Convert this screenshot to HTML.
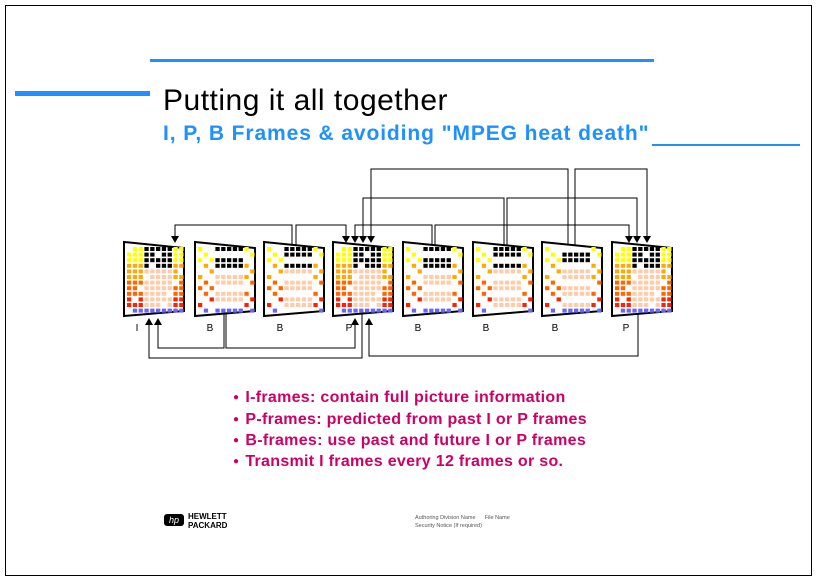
<!DOCTYPE html>
<html><head><meta charset="utf-8"><style>
body{margin:0;width:816px;height:580px;background:#fff;position:relative;overflow:hidden;font-family:"Liberation Sans",sans-serif}
.a{position:absolute}
.b{position:absolute;left:233px;color:#cc0066;font-weight:bold;font-size:16px;white-space:nowrap;letter-spacing:0.3px}
.b span{font-size:10px;margin-right:6px;position:relative;top:-2px}
</style></head><body>
<div class="a" style="left:5px;top:5px;width:805px;height:569px;border:1px solid #000"></div>
<div class="a" style="left:150px;top:59px;width:504px;height:3px;background:#1e90ff"></div>
<div class="a" style="left:15px;top:91px;width:135px;height:5px;background:#1e90ff"></div>
<div class="a" style="left:652px;top:144px;width:148px;height:2px;background:#1e90ff"></div>
<div class="a" style="left:163px;top:84px;font-size:30px;color:#000;letter-spacing:0.5px">Putting it all together</div>
<div class="a" style="left:163px;top:122px;font-size:21px;font-weight:bold;color:#1e90ff;letter-spacing:0.9px">I, P, B Frames &amp; avoiding "MPEG heat death"</div>
<svg class="a" style="left:0;top:0" width="816" height="580">
<g stroke="#000" stroke-width="1" fill="none">
<polyline points="175,240 175,225 292,225 292,247"/>
<polyline points="296,247 296,225 346,225 346,240"/>
<polyline points="355,240 355,225 432,225 432,247"/>
<polyline points="435,247 435,225 629,225 629,240"/>
<polyline points="363,240 363,198 504,198 504,247"/>
<polyline points="507,247 507,198 637,198 637,240"/>
<polyline points="371,240 371,169 568,169 568,247"/>
<polyline points="575,247 575,169 647,169 647,240"/>
<polyline points="158,322 158,348 224,348 224,312"/>
<polyline points="226,312 226,348 355,348 355,322"/>
<polyline points="149,322 149,358 362,358 362,312"/>
<polyline points="369,322 369,356 638,356 638,312"/>
</g>
<g fill="#000">
<path d="M171,236h8l-4,7z"/><path d="M342,236h8l-4,7z"/><path d="M351,236h8l-4,7z"/><path d="M625,236h8l-4,7z"/>
<path d="M359,236h8l-4,7z"/><path d="M633,236h8l-4,7z"/><path d="M367,236h8l-4,7z"/><path d="M643,236h8l-4,7z"/>
<path d="M154,325h8l-4,-7z"/><path d="M351,325h8l-4,-7z"/><path d="M145,325h8l-4,-7z"/><path d="M365,325h8l-4,-7z"/>
</g>
<g id="fr"></g>
<g font-size="10" fill="#000" text-anchor="middle">
<text x="137" y="331">I</text><text x="210" y="331">B</text><text x="280" y="331">B</text><text x="349" y="331">P</text>
<text x="418" y="331">B</text><text x="486" y="331">B</text><text x="555" y="331">B</text><text x="626" y="331">P</text>
</g>
</svg>
<div class="b" style="top:389px"><span>●</span>I-frames: contain full picture information</div>
<div class="b" style="top:411px"><span>●</span>P-frames: predicted from past I or P frames</div>
<div class="b" style="top:432px"><span>●</span>B-frames: use past and future I or P frames</div>
<div class="b" style="top:453px"><span>●</span>Transmit I frames every 12 frames or so.</div>
<div class="a" style="left:164px;top:514px;width:20px;height:12px;background:#000;border-radius:3px;color:#fff;font-size:9px;font-style:italic;text-align:center;line-height:12px">hp</div>
<div class="a" style="left:188px;top:512px;font-size:8px;line-height:9px;font-weight:bold">HEWLETT<br>PACKARD</div>
<div class="a" style="left:415px;top:514px;font-size:5.5px;line-height:8px;color:#555">Authoring Division Name &nbsp;&nbsp;&nbsp;&nbsp; File Name<br>Security Notice (If required)</div>
<script>
var xs=[124,195,264,333,403,473,542,612],g=document.getElementById('fr'),h='';
xs.forEach(function(x,i){
 h+='<path d="M'+x+',242 L'+(x+60)+',248 L'+(x+60)+',311 L'+x+',316 Z" fill="#fff" stroke="#000" stroke-width="2"/>';
 var full=(i==0||i==3||i==7);
 for(var r=0;r<12;r++)for(var c=0;c<10;c++){
  var cx=x+3+c*5.8,cy=247+r*5.6,col;
  var center=c>=3&&c<=7;
  if(r>=11){col='#6666ff';}
  else if(center&&r<4)col='#000';
  else if(center)col='#ffccaa';
  else {col=r<3?'#ffff00':r<6?'#ffaa00':r<9?'#ff6600':'#ff2200';}
  var keep=full?((r*7+c*3)%11!=0):(((r*13+c*7+i*5)%5)<2);
  if(center&&!full)keep=((r*5+c*3+i)%3)!=0;
  if(keep)h+='<rect x="'+cx+'" y="'+cy+'" width="4.3" height="4" fill="'+col+'"/>';
 }
});
g.innerHTML=h;
</script>
</body></html>
